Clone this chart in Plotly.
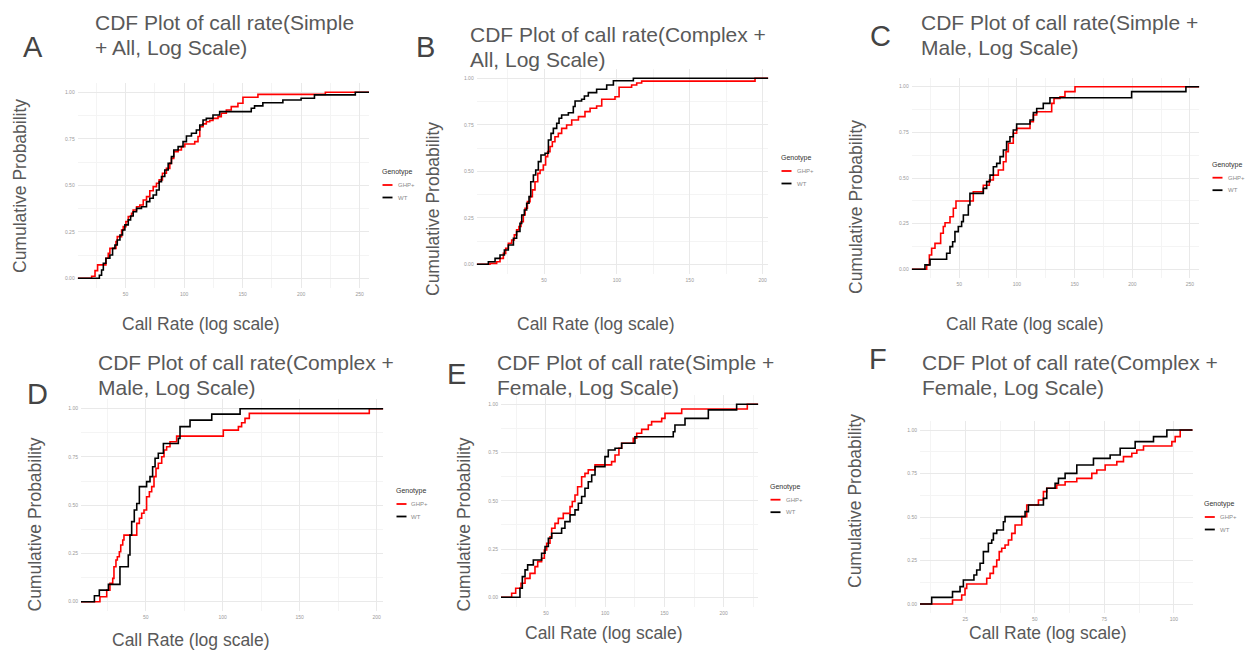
import plotly.graph_objects as go

W, H = 1247, 650
RED = "#ff0000"
BLACK = "#000000"
FONT = "Liberation Sans, Arial, sans-serif"

# ---- ECDF step points (call rate, cumulative probability) per genotype ----
# A: Simple + All
a_ghp_x = [21.0, 23.9, 26.1, 33.2, 35.2, 36.6, 41.8, 42.9, 46.6, 48.0, 50.3, 52.3, 55.1, 56.5, 59.4,
           62.2, 65.1, 67.9, 70.7, 73.6, 76.4, 78.7, 81.5, 84.9, 87.8, 89.2, 91.2, 94.9, 97.7, 100.6,
           109.1, 111.9, 113.4, 116.2, 119.0, 121.9, 124.7, 129.0, 131.8, 136.1, 140.3, 146.0, 150.3,
           163.1, 220.7]
a_ghp_y = [0.011, 0.041, 0.072, 0.108, 0.134, 0.161, 0.197, 0.224, 0.260, 0.278, 0.305, 0.332, 0.349,
           0.367, 0.385, 0.394, 0.421, 0.439, 0.471, 0.493, 0.511, 0.529, 0.565, 0.591, 0.618, 0.645,
           0.681, 0.690, 0.708, 0.722, 0.735, 0.762, 0.815, 0.830, 0.842, 0.848, 0.860, 0.869, 0.887,
           0.905, 0.923, 0.941, 0.973, 0.989, 1.0]
a_wt_x = [27.6, 29.5, 31.0, 33.2, 36.6, 38.9, 40.9, 42.9, 45.2, 47.4, 49.4, 52.3, 54.3, 56.5, 59.4,
          63.6, 67.9, 70.7, 73.6, 76.4, 78.7, 80.7, 83.5, 86.4, 89.2, 91.2, 94.9, 99.1, 102.0, 106.3,
          110.5, 113.4, 116.2, 119.0, 124.7, 130.4, 157.4, 160.2, 167.3, 184.4, 200.0, 211.4, 246.3]
a_wt_y = [0.016, 0.045, 0.081, 0.108, 0.125, 0.161, 0.179, 0.206, 0.233, 0.260, 0.287, 0.314, 0.335,
          0.358, 0.376, 0.385, 0.412, 0.430, 0.448, 0.475, 0.520, 0.547, 0.582, 0.618, 0.654, 0.690,
          0.708, 0.735, 0.765, 0.780, 0.797, 0.824, 0.851, 0.860, 0.878, 0.896, 0.914, 0.927, 0.944,
          0.959, 0.968, 0.986, 1.0]

# B: Complex + All
b_ghp_x = [12.95, 17.5, 19.8, 22.1, 23.7, 25.5, 27.8, 29.6, 31.2, 32.8, 34.2, 35.8, 37.0, 38.6, 40.4,
           42.0, 43.8, 45.7, 47.3, 49.5, 51.1, 52.5, 54.1, 55.7, 57.5, 59.8, 62.1, 65.5, 69.0, 73.6,
           78.1, 81.6, 86.1, 89.6, 98.7, 101.5, 110.1, 113.6, 117.0, 194.8]
b_ghp_y = [0.005, 0.014, 0.032, 0.059, 0.086, 0.113, 0.131, 0.158, 0.185, 0.203, 0.229, 0.265, 0.301,
           0.337, 0.364, 0.400, 0.444, 0.489, 0.507, 0.534, 0.579, 0.606, 0.633, 0.659, 0.686, 0.704,
           0.731, 0.749, 0.776, 0.794, 0.821, 0.839, 0.851, 0.887, 0.901, 0.952, 0.964, 0.975, 0.985, 1.0]
b_wt_x = [11.8, 16.4, 19.8, 22.8, 25.5, 29.0, 31.2, 33.5, 34.7, 36.5, 38.1, 39.7, 40.9, 42.7, 44.3,
          46.1, 47.9, 50.7, 53.0, 54.8, 56.4, 58.7, 60.3, 62.1, 66.7, 70.1, 71.3, 75.8, 77.7, 80.4,
          86.1, 93.0, 97.6, 111.3]
b_wt_y = [0.014, 0.032, 0.050, 0.077, 0.104, 0.140, 0.176, 0.220, 0.265, 0.292, 0.328, 0.364, 0.444,
          0.480, 0.507, 0.552, 0.588, 0.597, 0.668, 0.704, 0.731, 0.758, 0.785, 0.803, 0.815, 0.848,
          0.878, 0.887, 0.905, 0.923, 0.941, 0.964, 0.987, 1.0]

# C: Simple + Male
c_ghp_x = [21.7, 24.0, 26.0, 28.9, 33.8, 36.1, 37.6, 41.9, 44.8, 47.1, 62.1, 70.8, 76.0, 79.5, 83.8,
           88.2, 90.5, 92.5, 96.8, 99.7, 111.3, 114.2, 117.1, 130.1, 132.1, 137.3, 141.6, 150.3]
c_ghp_y = [0.024, 0.078, 0.115, 0.142, 0.197, 0.234, 0.255, 0.288, 0.334, 0.374, 0.425, 0.460, 0.489,
           0.516, 0.544, 0.589, 0.644, 0.690, 0.745, 0.772, 0.808, 0.845, 0.863, 0.909, 0.936, 0.945,
           0.973, 1.0]
c_wt_x = [20.2, 24.6, 39.0, 41.9, 44.2, 46.2, 49.1, 52.0, 53.5, 57.8, 59.2, 70.8, 73.7, 76.6, 79.5,
          82.4, 85.3, 88.2, 91.0, 93.9, 96.8, 99.7, 111.3, 114.2, 117.1, 122.8, 128.6, 199.4, 246.5]
c_wt_y = [0.024, 0.055, 0.088, 0.124, 0.151, 0.206, 0.234, 0.261, 0.297, 0.352, 0.416, 0.443, 0.480,
          0.516, 0.562, 0.580, 0.617, 0.653, 0.699, 0.726, 0.763, 0.796, 0.818, 0.858, 0.881, 0.909,
          0.940, 0.973, 1.0]

# D: Complex + Male
d_ghp_x = [20.3, 24.7, 26.8, 28.6, 29.4, 30.7, 31.6, 32.9, 33.8, 35.1, 35.9, 44.2, 45.9, 47.4, 48.9,
           50.6, 52.4, 53.9, 55.4, 56.7, 58.2, 60.4, 61.9, 63.6, 65.8, 70.1, 100.4, 110.2, 112.3, 114.5,
           117.3, 195.2]
d_ghp_y = [0.026, 0.060, 0.095, 0.121, 0.181, 0.216, 0.233, 0.259, 0.294, 0.320, 0.345, 0.406, 0.432,
           0.458, 0.475, 0.544, 0.570, 0.596, 0.648, 0.691, 0.717, 0.751, 0.786, 0.803, 0.829, 0.858,
           0.889, 0.907, 0.927, 0.950, 0.976, 1.0]
d_wt_x = [16.7, 19.9, 25.8, 33.3, 38.7, 39.8, 40.9, 42.6, 44.2, 45.9, 50.6, 52.8, 54.5, 56.1, 58.2,
          61.5, 71.2, 72.3, 78.8, 92.9, 111.3]
d_wt_y = [0.031, 0.060, 0.090, 0.181, 0.242, 0.345, 0.415, 0.475, 0.509, 0.596, 0.622, 0.648, 0.699,
          0.743, 0.769, 0.820, 0.846, 0.907, 0.941, 0.972, 1.0]

# E: Simple + Female
e_ghp_x = [21.0, 24.4, 28.9, 32.3, 36.5, 40.7, 43.0, 46.3, 48.6, 50.6, 53.4, 54.8, 57.6, 60.4, 64.6,
           70.3, 72.2, 74.5, 76.7, 80.1, 82.9, 85.7, 91.4, 105.4, 108.3, 111.6, 113.9, 123.7, 126.6,
           130.8, 136.4, 139.2, 147.7, 150.5, 164.6, 220.0]
e_ghp_y = [0.021, 0.047, 0.073, 0.098, 0.124, 0.159, 0.185, 0.202, 0.245, 0.280, 0.314, 0.358, 0.383,
           0.409, 0.435, 0.470, 0.496, 0.530, 0.573, 0.625, 0.642, 0.660, 0.686, 0.703, 0.737, 0.772,
           0.798, 0.824, 0.850, 0.870, 0.893, 0.910, 0.927, 0.953, 0.976, 1.0]
e_wt_x = [28.0, 30.0, 32.3, 34.5, 39.3, 46.3, 49.2, 52.0, 54.8, 63.2, 66.0, 70.3, 74.5, 77.3, 80.1,
          82.9, 85.7, 88.6, 91.4, 99.8, 102.6, 108.3, 113.9, 125.1, 157.5, 158.9, 167.4, 187.1, 211.0]
e_wt_y = [0.047, 0.107, 0.142, 0.168, 0.193, 0.228, 0.263, 0.306, 0.332, 0.358, 0.392, 0.427, 0.453,
          0.487, 0.522, 0.565, 0.599, 0.634, 0.677, 0.729, 0.763, 0.772, 0.798, 0.832, 0.858, 0.893,
          0.927, 0.971, 1.0]

# F: Complex + Female
f_ghp_x = [20.4, 23.7, 24.9, 25.5, 32.7, 33.9, 35.1, 36.3, 37.2, 38.1, 39.3, 40.5, 41.7, 42.9, 45.3,
           47.1, 51.3, 53.1, 54.3, 57.9, 60.9, 65.1, 70.5, 72.3, 75.3, 79.5, 81.9, 84.9, 86.7, 89.1,
           99.3, 100.5, 102.3]
f_ghp_y = [0.023, 0.052, 0.090, 0.115, 0.148, 0.176, 0.215, 0.253, 0.301, 0.320, 0.339, 0.368, 0.406,
           0.454, 0.502, 0.569, 0.598, 0.646, 0.665, 0.684, 0.703, 0.722, 0.751, 0.770, 0.799, 0.818,
           0.847, 0.866, 0.885, 0.908, 0.933, 0.962, 1.0]
f_wt_x = [12.9, 20.4, 23.1, 24.3, 28.1, 29.1, 30.3, 31.5, 33.3, 34.5, 35.1, 36.3, 38.7, 39.3, 46.5,
          47.7, 53.1, 54.3, 57.3, 58.5, 60.9, 65.1, 71.1, 77.1, 80.7, 86.1, 92.7, 97.5]
f_wt_y = [0.038, 0.071, 0.100, 0.138, 0.167, 0.195, 0.234, 0.301, 0.349, 0.368, 0.406, 0.425, 0.473,
          0.502, 0.531, 0.569, 0.607, 0.665, 0.693, 0.722, 0.751, 0.799, 0.837, 0.856, 0.895, 0.933,
          0.962, 1.0]

genotypes = ["GHP+", "WT"]
y_ticks = [0.0, 0.25, 0.5, 0.75, 1.0]

# ---- panel layout (pixel boxes on the 1247x650 canvas) ----
panels = [
    dict(letter="A", title=("CDF Plot of call rate(Simple", "+ All, Log Scale)"),
         ghp=(a_ghp_x, a_ghp_y), wt=(a_wt_x, a_wt_y),
         box=(77.7, 83.0, 369.0, 287.6), xrange=(9.1, 258.0), dtick=50,
         letter_at=(21, 47.5), title_at=(93, 22.5), ytitle_at=(19.5, 186.5),
         xtitle_at=(201, 324.3), legend_at=(381, 172)),
    dict(letter="B", title=("CDF Plot of call rate(Complex +", "All, Log Scale)"),
         ghp=(b_ghp_x, b_ghp_y), wt=(b_wt_x, b_wt_y),
         box=(476.7, 69.0, 768.3, 273.6), xrange=(3.8, 203.9), dtick=50,
         letter_at=(414, 47.5), title_at=(468, 34.2), ytitle_at=(433.5, 208.5),
         xtitle_at=(596, 324.3), legend_at=(780, 158)),
    dict(letter="C", title=("CDF Plot of call rate(Simple +", "Male, Log Scale)"),
         ghp=(c_ghp_x, c_ghp_y), wt=(c_wt_x, c_wt_y),
         box=(911.7, 77.6, 1199.3, 278.4), xrange=(8.7, 258.1), dtick=50,
         letter_at=(868, 36), title_at=(919, 22.5), ytitle_at=(856.5, 207.5),
         xtitle_at=(1025, 324.3), legend_at=(1211, 164.7)),
    dict(letter="D", title=("CDF Plot of call rate(Complex +", "Male, Log Scale)"),
         ghp=(d_ghp_x, d_ghp_y), wt=(d_wt_x, d_wt_y),
         box=(81.0, 399.05, 383.3, 611.35), xrange=(8.0, 204.3), dtick=50,
         letter_at=(25, 394), title_at=(96, 362.5), ytitle_at=(34.5, 525),
         xtitle_at=(191, 639.6), legend_at=(395, 491)),
    dict(letter="E", title=("CDF Plot of call rate(Simple +", "Female, Log Scale)"),
         ghp=(e_ghp_x, e_ghp_y), wt=(e_wt_x, e_wt_y),
         box=(501.0, 394.65, 758.3, 606.95), xrange=(12.0, 229.3), dtick=50,
         letter_at=(445, 374), title_at=(495, 362.5), ytitle_at=(463.5, 525),
         xtitle_at=(604, 633), legend_at=(769, 486.7)),
    dict(letter="F", title=("CDF Plot of call rate(Complex +", "Female, Log Scale)"),
         ghp=(f_ghp_x, f_ghp_y), wt=(f_wt_x, f_wt_y),
         box=(920.0, 421.3, 1192.7, 612.7), xrange=(8.7, 106.8), dtick=25,
         letter_at=(867, 358.5), title_at=(920, 362.5), ytitle_at=(854.5, 501.5),
         xtitle_at=(1048, 633), legend_at=(1203.3, 504)),
]


def px(x):
    return x / W


def py(y):
    return 1 - y / H


fig = go.Figure()
annotations = []
shapes = []

for i, p in enumerate(panels, start=1):
    xa = "x" if i == 1 else f"x{i}"
    ya = "y" if i == 1 else f"y{i}"
    x0, x1 = p["xrange"]
    for (xs, ys), name, color in zip((p["ghp"], p["wt"]), genotypes, (RED, BLACK)):
        # ECDF padded to the panel edges, drawn as a step function
        fig.add_trace(go.Scatter(
            x=[x0] + list(xs) + [x1], y=[0.0] + list(ys) + [1.0],
            mode="lines", line=dict(color=color, width=1.6, shape="hv"),
            name=name, showlegend=False, xaxis=xa, yaxis=ya, hoverinfo="skip"))

    bx0, by0, bx1, by1 = p["box"]
    fig.layout[("xaxis" if i == 1 else f"xaxis{i}")] = dict(
        domain=[px(bx0), px(bx1)], range=list(p["xrange"]), anchor=ya,
        tick0=0, dtick=p["dtick"], showgrid=True, gridcolor="#e9e9e9", gridwidth=1,
        minor=dict(tick0=0, dtick=p["dtick"] / 2, showgrid=True, gridcolor="#f4f4f4", gridwidth=1),
        zeroline=False, showline=False, ticks="", ticklabelstandoff=2,
        tickfont=dict(family=FONT, size=5, color="#9a9a9a"), fixedrange=True)
    fig.layout[("yaxis" if i == 1 else f"yaxis{i}")] = dict(
        domain=[py(by1), py(by0)], range=[-0.05, 1.05], anchor=xa,
        tickvals=y_ticks, ticktext=[f"{v:.2f}" for v in y_ticks],
        showgrid=True, gridcolor="#e9e9e9", gridwidth=1,
        minor=dict(tick0=0.125, dtick=0.25, showgrid=True, gridcolor="#f4f4f4", gridwidth=1),
        zeroline=False, showline=False, ticks="", ticklabelstandoff=2,
        tickfont=dict(family=FONT, size=5, color="#9a9a9a"), fixedrange=True)

    # panel letter
    lx, ly = p["letter_at"]
    annotations.append(dict(text=p["letter"], x=px(lx), y=py(ly), xref="paper", yref="paper",
                            xanchor="left", yanchor="middle", showarrow=False,
                            font=dict(family=FONT, size=29, color="#444444")))
    # two-line title
    tx, ty = p["title_at"]
    for k, line in enumerate(p["title"]):
        annotations.append(dict(text=line, x=px(tx), y=py(ty + 25 * k), xref="paper", yref="paper",
                                xanchor="left", yanchor="middle", showarrow=False,
                                font=dict(family=FONT, size=21, color="#595959")))
    # axis titles
    yx, yy = p["ytitle_at"]
    annotations.append(dict(text="Cumulative Probability", x=px(yx), y=py(yy), xref="paper",
                            yref="paper", xanchor="center", yanchor="middle", textangle=-90,
                            showarrow=False, font=dict(family=FONT, size=17.5, color="#595959")))
    xx, xy = p["xtitle_at"]
    annotations.append(dict(text="Call Rate (log scale)", x=px(xx), y=py(xy), xref="paper",
                            yref="paper", xanchor="center", yanchor="middle", showarrow=False,
                            font=dict(family=FONT, size=17.5, color="#595959")))
    # legend: title plus two keyed entries
    gx, gy = p["legend_at"]
    annotations.append(dict(text="Genotype", x=px(gx - 1), y=py(gy), xref="paper", yref="paper",
                            xanchor="left", yanchor="middle", showarrow=False,
                            font=dict(family=FONT, size=7, color="#333333")))
    for k, (name, color) in enumerate(zip(genotypes, (RED, BLACK))):
        ey = gy + 13 + 12.5 * k
        shapes.append(dict(type="line", xref="paper", yref="paper",
                           x0=px(gx + 1.5), x1=px(gx + 11.5), y0=py(ey), y1=py(ey),
                           line=dict(color=color, width=1.8)))
        annotations.append(dict(text=name, x=px(gx + 14.5), y=py(ey), xref="paper", yref="paper",
                                xanchor="left", yanchor="middle", showarrow=False,
                                font=dict(family=FONT, size=6, color="#8a8a8a")))

fig.update_layout(
    width=W, height=H, margin=dict(l=0, r=0, t=0, b=0),
    paper_bgcolor="white", plot_bgcolor="white",
    annotations=annotations, shapes=shapes, showlegend=False,
    font=dict(family=FONT),
)

fig.write_html("out.html", config={"displayModeBar": False})
